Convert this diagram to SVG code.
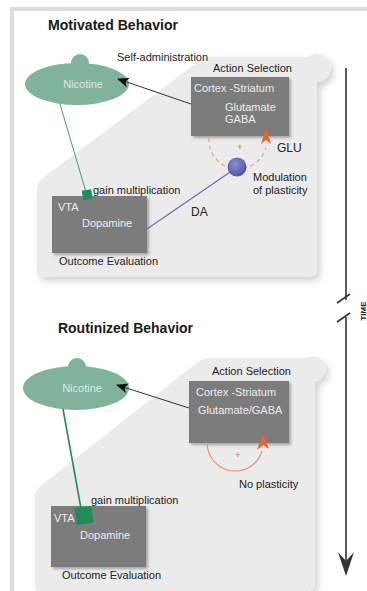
<svg xmlns="http://www.w3.org/2000/svg" width="367" height="591" viewBox="0 0 367 591">
  <defs>
    <filter id="softShadow" x="-10%" y="-10%" width="125%" height="125%">
      <feDropShadow dx="3" dy="4" stdDeviation="3.5" flood-color="#000" flood-opacity="0.18"/>
    </filter>
    <filter id="boxShadow" x="-10%" y="-10%" width="130%" height="130%">
      <feDropShadow dx="2" dy="2" stdDeviation="1.5" flood-color="#000" flood-opacity="0.3"/>
    </filter>
    <radialGradient id="daBall" cx="0.4" cy="0.35" r="0.7">
      <stop offset="0" stop-color="#8c90d2"/>
      <stop offset="1" stop-color="#4b509c"/>
    </radialGradient>
    <marker id="blackHead" viewBox="0 0 12 10" refX="11" refY="5" markerWidth="12" markerHeight="10" markerUnits="userSpaceOnUse" orient="auto">
      <path d="M0,0 L12,5 L0,10 L3,5 z" fill="#111"/>
    </marker>
  </defs>
  <style>
    text { font-family: "Liberation Sans", Arial, sans-serif; }
    .title { font-size: 14.5px; font-weight: bold; fill: #1a1a1a; }
    .lbl { font-size: 11px; fill: #222; }
    .inbox { font-size: 11px; fill: #ececec; }
    .nic { font-size: 11px; fill: #dcebe4; text-anchor: middle; }
    .panel { fill: #ebebeb; filter: url(#softShadow); }
    .box { fill: #7b7b7b; filter: url(#boxShadow); }
    .nicotine { fill: #80b29c; }
    .gain { fill: #1f8d55; }
    .plus { font-size: 9px; fill: #e8693a; text-anchor: middle; }
  </style>

  <rect width="367" height="591" fill="#fff"/>
  <!-- outer frame -->
  <rect x="10" y="7" width="357" height="4" fill="#dcdcdc"/>
  <rect x="10" y="7" width="4" height="584" fill="#dcdcdc"/>

  <!-- shaded panels -->
  <g id="panel-motivated">
    <path class="panel" d="M45,277 Q37,277 37,269 L37,190 Q37,182 44,177 L198,62 Q204,57 212,57 L308,57 A14 14 0 1 1 317,82 L317,269 Q317,277 309,277 Z"/>
  </g>
  <g id="panel-routinized">
    <path class="panel" d="M43,591 Q35,591 35,583 L35,497 Q35,490 42,485 L198,362 Q204,358 212,358 L306,358 A13 13 0 1 1 315,382 L315,583 Q315,591 307,591 Z"/>
  </g>

  <!-- titles -->
  <text class="title" x="48" y="30" textLength="130" lengthAdjust="spacingAndGlyphs">Motivated Behavior</text>
  <text class="title" x="58" y="333" textLength="135" lengthAdjust="spacingAndGlyphs">Routinized Behavior</text>

  <!-- motivated behavior nodes -->
  <g id="nicotine-top">
    <circle class="nicotine" cx="80" cy="63" r="9"/>
    <ellipse class="nicotine" cx="77" cy="84" rx="52" ry="21"/>
    <text class="nic" x="83" y="88">Nicotine</text>
  </g>
  <g id="cortex-top">
    <rect class="box" x="191" y="77" width="98" height="59"/>
    <text class="inbox" x="194" y="92">Cortex -Striatum</text>
    <text class="inbox" x="225" y="111">Glutamate</text>
    <text class="inbox" x="225" y="123">GABA</text>
    <text class="lbl" x="213" y="72">Action Selection</text>
    <text class="lbl" x="117" y="61">Self-administration</text>
  </g>
  <g id="vta-top">
    <rect class="box" x="52" y="196" width="95" height="57"/>
    <text class="inbox" x="58" y="211">VTA</text>
    <text class="inbox" x="82" y="227">Dopamine</text>
    <text class="lbl" x="59" y="265">Outcome Evaluation</text>
    <text class="lbl" x="93" y="194">gain multiplication</text>
  </g>

  <!-- routinized behavior nodes -->
  <g id="nicotine-bottom">
    <circle class="nicotine" cx="77" cy="367" r="9"/>
    <ellipse class="nicotine" cx="76" cy="388" rx="53" ry="22"/>
    <text class="nic" x="82" y="392">Nicotine</text>
  </g>
  <g id="cortex-bottom">
    <rect class="box" x="189" y="381" width="100" height="62"/>
    <text class="inbox" x="196" y="396">Cortex -Striatum</text>
    <text class="inbox" x="198" y="414">Glutamate/GABA</text>
    <text class="lbl" x="212" y="375">Action Selection</text>
  </g>
  <g id="vta-bottom">
    <rect class="box" x="51" y="506" width="95" height="61"/>
    <text class="inbox" x="54" y="522">VTA</text>
    <text class="inbox" x="80" y="539">Dopamine</text>
    <text class="lbl" x="62" y="579">Outcome Evaluation</text>
    <text class="lbl" x="91" y="504">gain multiplication</text>
  </g>

  <!-- connectors -->
  <g id="connectors">
    <!-- top section -->
    <line x1="191" y1="104" x2="118" y2="79" stroke="#333" stroke-width="1" marker-end="url(#blackHead)"/>
    <line x1="60" y1="104" x2="86" y2="192" stroke="#33a282" stroke-width="1"/>
    <line x1="147" y1="229" x2="236" y2="168" stroke="#6a6eb2" stroke-width="1.2"/>
    <path d="M208.9,138 A29 29 0 0 0 265.7,148" fill="none" stroke="#ef9a72" stroke-width="1.1" stroke-dasharray="4 3.5"/>
    <polygon points="266,128 271,144 266,140 261,144" fill="#e8652c"/>

    <!-- bottom section -->
    <line x1="189" y1="408" x2="117" y2="385" stroke="#333" stroke-width="1" marker-end="url(#blackHead)"/>
    <line x1="63" y1="409" x2="82" y2="514" stroke="#1f8d55" stroke-width="1.6"/>
    <path d="M207.2,444 A28 28 0 0 0 262,451" fill="none" stroke="#ee8a66" stroke-width="1.1"/>
    <polygon points="263,434 269,449 263,445 257,450" fill="#e8652c"/>

    <!-- time axis -->
    <line x1="346" y1="68" x2="346" y2="300" stroke="#333" stroke-width="1.6"/>
    <line x1="346" y1="317" x2="346" y2="566" stroke="#333" stroke-width="1.6"/>
    <line x1="337" y1="303" x2="350" y2="294" stroke="#333" stroke-width="1.6"/>
    <line x1="337" y1="322" x2="350" y2="313" stroke="#333" stroke-width="1.6"/>
    <path d="M346,576 L338,552 L346,561 L354,552 Z" fill="#333"/>
  </g>

  <!-- gain-multiplication junctions -->
  <g id="gain-top">
    <rect class="gain" x="82.5" y="190" width="9.5" height="9.5" transform="rotate(-10 87 195)"/>
  </g>
  <g id="gain-bottom">
    <rect class="gain" x="75.5" y="507" width="17" height="17" transform="rotate(-8 84 515.5)"/>
  </g>

  <!-- plasticity modulation -->
  <g id="plasticity-top">
    <circle cx="237" cy="167" r="9.5" fill="url(#daBall)"/>
    <text class="plus" x="240" y="150">+</text>
    <text class="lbl" x="277" y="152" style="font-size:12px">GLU</text>
    <text class="lbl" x="191" y="216" style="font-size:12px">DA</text>
    <text class="lbl" x="253" y="181">Modulation</text>
    <text class="lbl" x="253" y="194">of plasticity</text>
  </g>
  <g id="plasticity-bottom">
    <text class="plus" x="238" y="458">+</text>
    <text class="lbl" x="239" y="488">No plasticity</text>
  </g>

  <!-- time label -->
  <g id="time-label">
    <text x="366" y="311" transform="rotate(-90 366 311)" text-anchor="middle" style="font-size:8px;font-weight:bold;fill:#222">TIME</text>
  </g>
</svg>
